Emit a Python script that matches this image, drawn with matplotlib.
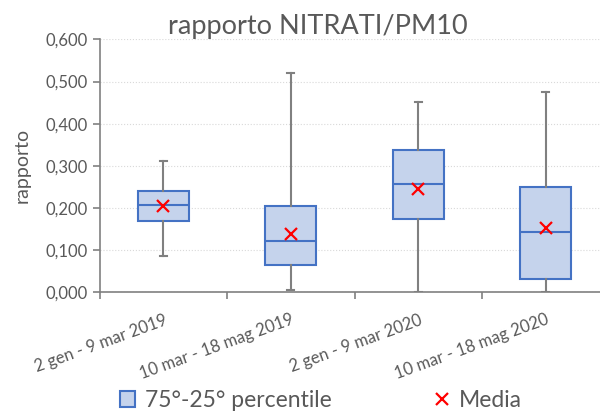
import matplotlib
matplotlib.use("Agg")
import matplotlib.pyplot as plt
from matplotlib.patches import Patch
from matplotlib.lines import Line2D
from matplotlib.ticker import FuncFormatter

# dati
periodi = ['2 gen - 9 mar 2019', '10 mar - 18 mag 2019',
           '2 gen - 9 mar 2020', '10 mar - 18 mag 2020']
minimo = [0.086, 0.005, 0.000, 0.001]
q1 = [0.170, 0.065, 0.175, 0.031]
mediana = [0.207, 0.121, 0.256, 0.1435]
q3 = [0.241, 0.2045, 0.337, 0.250]
massimo = [0.312, 0.520, 0.452, 0.475]
media = [0.205, 0.138, 0.246, 0.153]

grigio = '#595959'
blu = '#4472C4'
plt.rcParams['font.family'] = ['Lato', 'DejaVu Sans']

fig = plt.figure(figsize=(6, 4.12), dpi=100)
ax = fig.add_axes([0.166, 0.2905, 0.85, 0.614])

stats = []
for i in range(len(periodi)):
    stats.append({'whislo': minimo[i], 'q1': q1[i], 'med': mediana[i],
                  'q3': q3[i], 'whishi': massimo[i], 'mean': media[i],
                  'fliers': []})

pos = [0.5, 1.5, 2.5, 3.5]
ax.bxp(stats, positions=pos, widths=0.4, patch_artist=True, showmeans=True,
       showfliers=False, capwidths=0.055,
       boxprops=dict(facecolor='#C5D3EC', edgecolor=blu, linewidth=1.5),
       medianprops=dict(color=blu, linewidth=1.5),
       whiskerprops=dict(color='#808080', linewidth=1.5),
       capprops=dict(color='#808080', linewidth=1.5),
       meanprops=dict(marker='x', markeredgecolor='#FF0000', markersize=8,
                      markeredgewidth=1.6))

ax.set_xlim(0, 4)
ax.set_ylim(0, 0.6)
ax.set_yticks([0, 0.1, 0.2, 0.3, 0.4, 0.5, 0.6])
ax.yaxis.set_major_formatter(FuncFormatter(lambda v, p: f'{v:.3f}'.replace('.', ',')))
ax.set_xticks(pos)
ax.set_xticklabels(periodi, rotation=20, ha='right', rotation_mode='anchor')
ax.set_xticks([0, 1, 2, 3, 4], minor=True)
ax.tick_params(axis='x', which='major', length=0, pad=14, labelsize=12, labelcolor=grigio)
ax.tick_params(axis='x', which='minor', length=5, color='#808080', width=1.2)
ax.tick_params(axis='y', length=5, color='#808080', width=1.2, labelsize=12, labelcolor=grigio)
ax.grid(axis='y', color='#D9D9D9', linestyle=':', linewidth=0.8)
ax.set_axisbelow(True)
for s in ['top', 'right']:
    ax.spines[s].set_visible(False)
for s in ['left', 'bottom']:
    ax.spines[s].set_color('#808080')
    ax.spines[s].set_linewidth(1.2)

ax.set_ylabel('rapporto', color=grigio, fontsize=14, labelpad=11)
fig.text(0.53, 0.935, 'rapporto NITRATI/PM10', ha='center', va='center',
         fontsize=19.5, color=grigio)

maniglie = [Patch(facecolor='#C5D3EC', edgecolor=blu, linewidth=1.5),
            Line2D([], [], linestyle='none', marker='x', markeredgecolor='#FF0000',
                   markersize=8, markeredgewidth=1.6)]
fig.legend(maniglie, ['75°-25° percentile', 'Media'], loc='center',
           bbox_to_anchor=(0.535, 0.028), ncol=2, frameon=False, fontsize=16.5,
           labelcolor=grigio, columnspacing=4.5, handlelength=0.65, handletextpad=0.4)

fig.savefig('out.png', dpi=100)
